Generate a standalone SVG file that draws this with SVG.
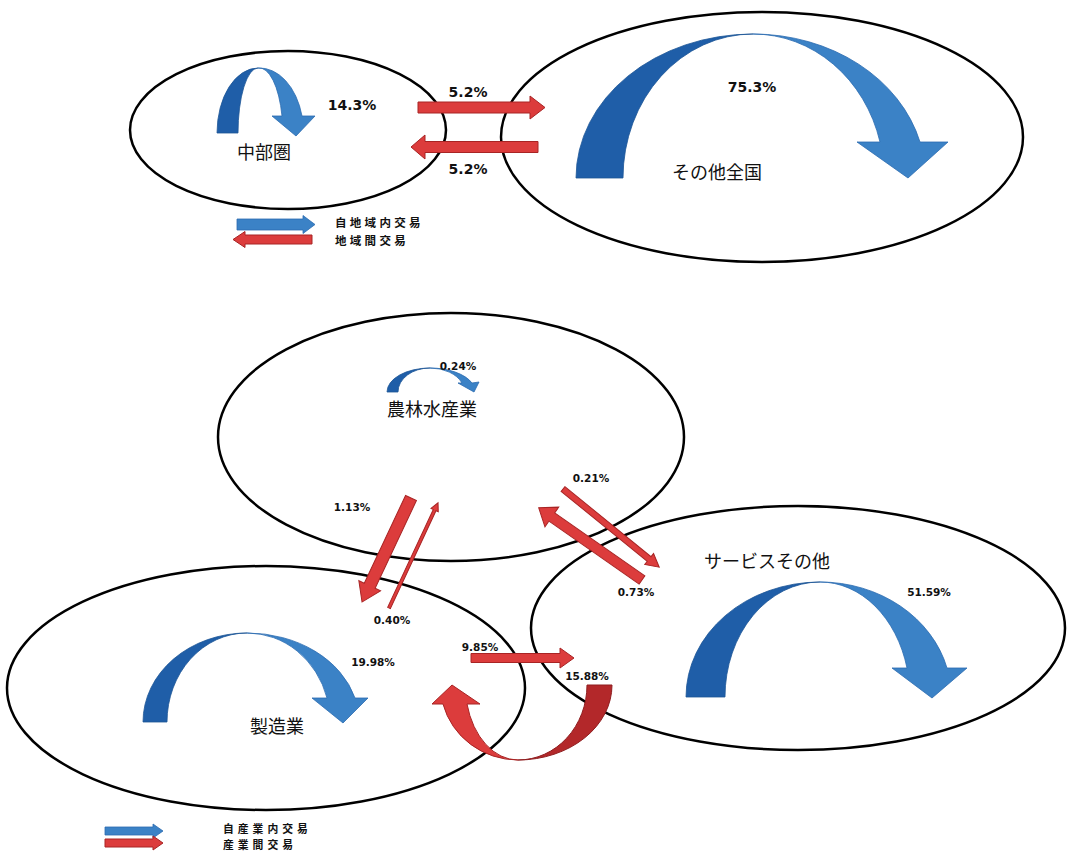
<svg xmlns="http://www.w3.org/2000/svg" width="1067" height="852" viewBox="0 0 1067 852">
<style>
.ell{fill:none;stroke:#000;stroke-width:2.5}
.jp{font-family:"Noto Sans CJK JP","Noto Sans",sans-serif;fill:#111}
.lg{font-family:"Noto Sans CJK JP","Noto Sans",sans-serif;fill:#111;font-weight:bold}
.pct{font-family:"DejaVu Sans","Liberation Sans",sans-serif;font-weight:bold;fill:#111}
.bl{fill:#1f5ea8;stroke:#1d5596;stroke-width:0.8}
.bl2{fill:#3b82c6;stroke:#2b6bb0;stroke-width:0.8}
.rd{fill:#dc3c3c;stroke:#a82424;stroke-width:1}
.rd2{fill:#b3282a;stroke:#8f1d1f;stroke-width:1}
</style>
<rect width="1067" height="852" fill="#fff"/>

<g id="chubu">
<ellipse class="ell" cx="288" cy="130" rx="158" ry="79"/>
<text class="jp" x="264" y="159" font-size="18" text-anchor="middle">中部圏</text>
</g>
<g id="sonota-zenkoku">
<ellipse class="ell" cx="762" cy="137" rx="261" ry="125"/>
<text class="jp" x="717" y="179" font-size="18" text-anchor="middle">その他全国</text>
</g>
<g id="legend-top">
<path class="bl2" d="M237,219 L303,219 L303,215.5 L315,224.5 L303,233.5 L303,230 L237,230 Z"/>
<path class="rd" d="M312,235 L245,235 L245,231.5 L233,239.5 L245,247.5 L245,244 L312,244 Z"/>
<text class="lg" x="335" y="227" font-size="11.5" letter-spacing="3.3">自地域内交易</text>
<text class="lg" x="335" y="244.5" font-size="11.5" letter-spacing="3.3">地域間交易</text>
</g>

<g id="nourin">
<ellipse class="ell" cx="451" cy="437" rx="233" ry="124"/>
<text class="jp" x="432" y="416" font-size="18" text-anchor="middle">農林水産業</text>
</g>
<g id="seizou">
<ellipse class="ell" cx="266" cy="688" rx="259" ry="122"/>
<text class="jp" x="277" y="733" font-size="18" text-anchor="middle">製造業</text>
</g>
<g id="service">
<ellipse class="ell" cx="798" cy="628" rx="267" ry="122"/>
<text class="jp" x="767" y="568" font-size="18" text-anchor="middle">サービスその他</text>
</g>
<g id="legend-bottom">
<path class="bl2" d="M105,827 L153,827 L153,824 L163,831 L153,838 L153,835 L105,835 Z"/>
<path class="rd" d="M105,839 L153,839 L153,836 L163,843 L153,850 L153,847 L105,847 Z"/>
<text class="lg" x="223" y="833" font-size="10.8" letter-spacing="4">自産業内交易</text>
<text class="lg" x="223" y="849" font-size="10.8" letter-spacing="4">産業間交易</text>
</g>

<g id="connectors">
<!-- その他全国 self arc -->
<path class="bl" d="M576,178 A177,144 0 0 1 753,34 A130,144 0 0 0 623,178 Z"/>
<path class="bl2" d="M753,34 A172.5,144 0 0 1 920,142 L948,142 L908,178 L857,142 L880,142 A131.2,144 0 0 0 753,34 Z"/>
<!-- 中部圏 self arc -->
<path class="bl" d="M217,133 A41,65 0 0 1 258,68 A20,65 0 0 0 238,133 Z"/>
<path class="bl2" d="M258,68 A44,65 0 0 1 302,116 L315,116 L296,136 L272,116 L282,116 A23.5,65 0 0 0 258,68 Z"/>
<!-- inter-regional -->
<path class="rd" d="M418,102 L530,102 L530,96 L545,107.5 L530,119 L530,113 L418,113 Z"/>
<path class="rd" d="M538,141.5 L425,141.5 L425,135 L411,147 L425,159 L425,152.5 L538,152.5 Z"/>

<!-- 農林水産業 self arc -->
<path class="bl" d="M387,392 A43,24 0 0 1 430,368 A32,24 0 0 0 398,392 Z"/>
<path class="bl2" d="M430,368 A45.3,24 0 0 1 472,383 L479,382 L474,392 L458,383 L462,383 A34.5,24 0 0 0 430,368 Z"/>
<!-- サービス self arc -->
<path class="bl" d="M686,697 A134,115 0 0 1 820,582 A95,115 0 0 0 725,697 Z"/>
<path class="bl2" d="M820,582 A131.2,115 0 0 1 947,668 L967,668 L932,698 L892,668 L907,668 A89.9,115 0 0 0 820,582 Z"/>
<!-- 製造業 self arc -->
<path class="bl" d="M143,722 A104,89 0 0 1 247,633 A80,89 0 0 0 167,722 Z"/>
<path class="bl2" d="M247,633 A112.1,89 0 0 1 355,698 L368,698 L343,723 L312,698 L327,698 A83,89 0 0 0 247,633 Z"/>

<!-- 1.13% thick, 農林→製造 -->
<path class="rd" transform="translate(411,498) rotate(115.2)" d="M0,-6 L97,-6 L97,-12 L115,0 L97,12 L97,6 L0,6 Z"/>
<!-- 0.40% thin, 製造→農林 -->
<path class="rd" transform="translate(389,608) rotate(-65)" d="M0,-1.5 L108,-1.5 L108,-4 L116,0 L108,4 L108,1.5 L0,1.5 Z"/>
<!-- 0.21% 農林→サービス -->
<path class="rd" transform="translate(563,489) rotate(39.1)" d="M0,-3 L111,-3 L111,-7 L124,0 L111,7 L111,3 L0,3 Z"/>
<!-- 0.73% サービス→農林 -->
<path class="rd" transform="translate(642,580) rotate(-145.05)" d="M0,-5 L110,-5 L110,-12 L126,0 L110,12 L110,5 L0,5 Z"/>
<!-- 9.85% 製造→サービス -->
<path class="rd" d="M471,653.5 L560,653.5 L560,648 L574,658 L560,668 L560,662.5 L471,662.5 Z"/>
<!-- 15.88% サービス→製造 U arrow -->
<path class="rd2" d="M587,685 L612,685 A94,75 0 0 1 518,760 A69,75 0 0 0 587,685 Z"/>
<path class="rd" d="M518,760 A77.5,75 0 0 1 443,704 L432,704 L452,685 L480,704 L467,704 A52.7,75 0 0 0 518,760 Z"/>
</g>

<g id="labels">
<text class="pct" x="352" y="110" font-size="14" text-anchor="middle">14.3%</text>
<text class="pct" x="468" y="97" font-size="14" text-anchor="middle">5.2%</text>
<text class="pct" x="468" y="174" font-size="14" text-anchor="middle">5.2%</text>
<text class="pct" x="752" y="92" font-size="14" text-anchor="middle">75.3%</text>
<text class="pct" x="458" y="370" font-size="10.5" text-anchor="middle">0.24%</text>
<text class="pct" x="352" y="511" font-size="10.5" text-anchor="middle">1.13%</text>
<text class="pct" x="392" y="624" font-size="10.5" text-anchor="middle">0.40%</text>
<text class="pct" x="591" y="482" font-size="10.5" text-anchor="middle">0.21%</text>
<text class="pct" x="636" y="596" font-size="10.5" text-anchor="middle">0.73%</text>
<text class="pct" x="929" y="596" font-size="10.5" text-anchor="middle">51.59%</text>
<text class="pct" x="373" y="666" font-size="10.5" text-anchor="middle">19.98%</text>
<text class="pct" x="480" y="651" font-size="10.5" text-anchor="middle">9.85%</text>
<text class="pct" x="587" y="680" font-size="10.5" text-anchor="middle">15.88%</text>
</g>
</svg>
